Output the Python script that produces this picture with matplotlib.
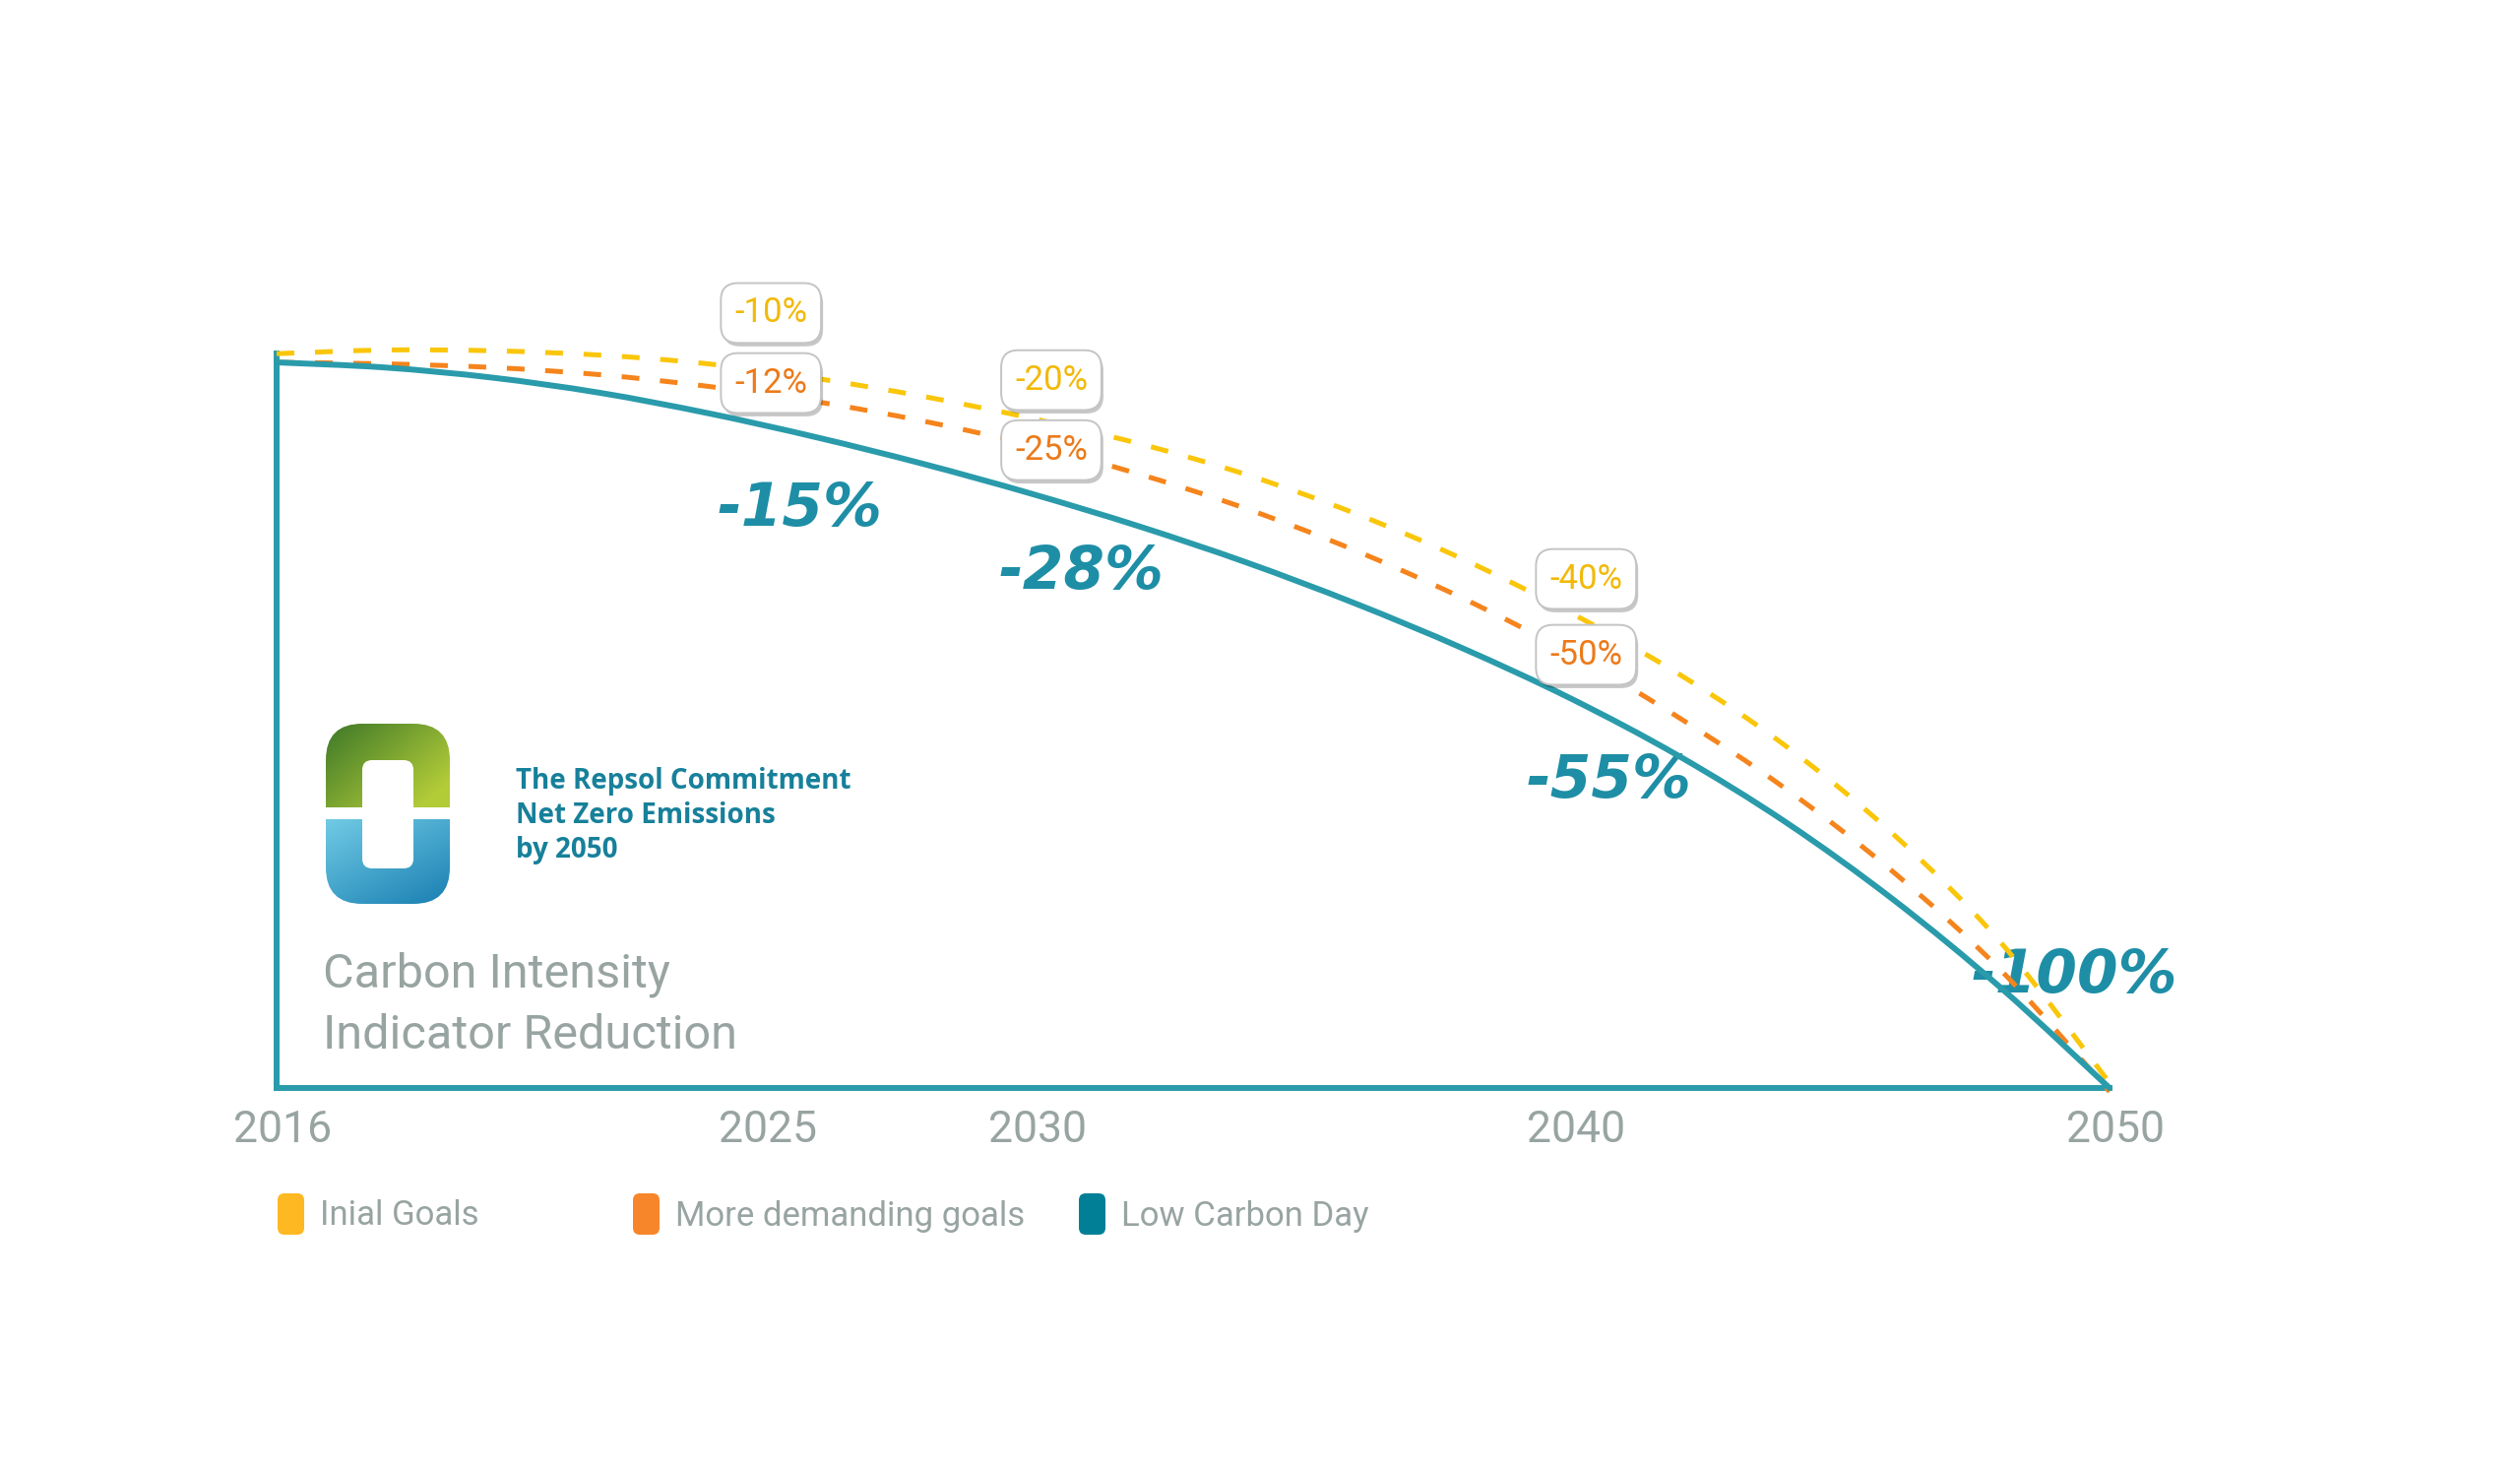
import numpy as np
import matplotlib
matplotlib.use("Agg")
import matplotlib.pyplot as plt
import matplotlib.transforms as mtransforms
from matplotlib.patches import FancyBboxPatch, Rectangle, PathPatch
from matplotlib.path import Path
from matplotlib.transforms import Affine2D
from matplotlib import patheffects as pe

# ------------------------------------------------------------------ data
years = [2016, 2018, 2020, 2022, 2024, 2026, 2028, 2030, 2032,
         2034, 2036, 2038, 2040, 2042, 2044, 2046, 2048, 2050]
low_carbon_day = [0, -0.7, -2.1, -4.2, -7.0, -10.3, -14.0, -18.1, -22.6,
                  -27.6, -33.2, -39.4, -46.3, -54.2, -63.4, -74.1, -86.3, -100]
initial_goals = [1.2, 1.7, 1.6, 1.0, -0.2, -2.2, -4.7, -7.7, -11.2,
                 -15.5, -20.8, -27.1, -34.5, -42.9, -52.9, -65.1, -80.1, -99.3]
more_demanding = [0, -0.2, -0.7, -1.7, -3.3, -5.4, -8.1, -11.4, -15.4,
                  -20.2, -25.9, -32.5, -40.1, -48.9, -58.8, -70.3, -83.9, -100.5]

milestone_years = [2025, 2030, 2040]
initial_labels = ["-10%", "-20%", "-40%"]
demanding_labels = ["-12%", "-25%", "-50%"]
lcd_years = [2025, 2030, 2040, 2050]
lcd_labels = ["-15%", "-28%", "-55%", "-100%"]

tick_years = [2016, 2025, 2030, 2040, 2050]
tick_labels = ["2016", "2025", "2030", "2040", "2050"]

legend_labels = ["Inial Goals", "More demanding goals", "Low Carbon Day"]
legend_colors = ["#FDB822", "#F7862B", "#007F97"]

logo_lines = ["The Repsol Commitment", "Net Zero Emissions", "by 2050"]
subtitle_lines = ["Carbon Intensity", "Indicator Reduction"]

# ------------------------------------------------------------------ style
TEAL = "#2A9BAB"
TEAL_TXT = "#1E8EA6"
YEL = "#FAC60A"
ORG = "#F5841C"
YEL_TXT = "#F2B90A"
ORG_TXT = "#EC7A1A"
GRAY = "#98A4A2"
LOGO_TXT = "#17809A"
LIGHT = ["Roboto", "DejaVu Sans"]

# layout (label placement, offsets in years / chart units)
box_dx = [0.17, 0.37, 0.29]
box_y_init = [6.8, -2.45, -29.85]
box_y_dem = [-2.85, -12.1, -40.3]
lcd_dx = [0.71, 0.92, 0.71, -0.65]
lcd_ty = [-20.3, -29.0, -57.7, -84.6]

W, H = 2560, 1494
fig = plt.figure(figsize=(W / 100, H / 100), dpi=100)
fig.patch.set_facecolor("white")
PX = Affine2D().scale(1, -1).translate(0, H)   # top-left pixel coordinates

ax = fig.add_axes([281 / W, 1 - 1105 / H, (2143 - 281) / W, (1105 - 359.2) / H])
ax.set_xlim(2016, 2050)
ax.set_ylim(-100, 1.2)
ax.patch.set_alpha(0)
for s in ("top", "right"):
    ax.spines[s].set_visible(False)
for s in ("left", "bottom"):
    ax.spines[s].set_color(TEAL)
    ax.spines[s].set_linewidth(4.3)
    ax.spines[s].set_capstyle("projecting")
ax.set_yticks([])
ax.set_xticks(tick_years, tick_labels)
ax.tick_params(axis="x", length=0, pad=16, labelsize=32, labelcolor=GRAY)
shift = mtransforms.ScaledTranslation(0.06, 0, fig.dpi_scale_trans)
for lbl in ax.get_xticklabels():
    lbl.set_fontfamily(LIGHT)
    lbl.set_fontweight("normal")
    lbl.set_transform(lbl.get_transform() + shift)


def smooth_path(xs, ys):
    """Smooth (Catmull-Rom style) Bezier path through the read points."""
    p = np.column_stack([xs, ys]).astype(float)
    ext = np.vstack([p[0], p, p[-1]])
    verts = [p[0]]
    codes = [Path.MOVETO]
    for i in range(len(p) - 1):
        p0, p1, p2, p3 = ext[i], ext[i + 1], ext[i + 2], ext[i + 3]
        verts += [p1 + (p2 - p0) / 6.0, p2 - (p3 - p1) / 6.0, p2]
        codes += [Path.CURVE4] * 3
    return Path(np.array(verts), codes)


# curves
for ys, col in ((initial_goals, YEL), (more_demanding, ORG)):
    ax.add_patch(PathPatch(smooth_path(years, ys), fill=False, ec=col, lw=3.6,
                           ls=(0, (3.6, 4.2)), capstyle="butt", clip_on=False, zorder=3))
ax.add_patch(PathPatch(smooth_path(years, low_carbon_day), fill=False, ec=TEAL, lw=4.3,
                       capstyle="round", joinstyle="round", clip_on=False, zorder=4))

# big low-carbon-day labels
for yr, lab, dx, ty in zip(lcd_years, lcd_labels, lcd_dx, lcd_ty):
    ax.text(yr + dx, ty, lab, ha="center", va="center", fontsize=43,
            fontweight="bold", fontstyle="italic", color=TEAL_TXT,
            family=["DejaVu Sans"], zorder=2)

# boxed goal labels
def boxed(x, y, s, col):
    t = ax.text(x, y, s, ha="center", va="center", fontsize=25, color=col,
                family=LIGHT, fontweight="normal", zorder=6,
                bbox=dict(boxstyle="round,pad=0.4,rounding_size=0.5",
                          fc="white", ec="#c4c4c4", lw=1.4))
    t.get_bbox_patch().set_path_effects(
        [pe.withSimplePatchShadow(offset=(1.5, -2.5), shadow_rgbFace="k", alpha=0.22)])

for yr, dx, lab, yy in zip(milestone_years, box_dx, initial_labels, box_y_init):
    boxed(yr + dx, yy, lab, YEL_TXT)
for yr, dx, lab, yy in zip(milestone_years, box_dx, demanding_labels, box_y_dem):
    boxed(yr + dx, yy, lab, ORG_TXT)

# ------------------------------------------------------------------ logo
lax = fig.add_axes([331 / W, 1 - 918 / H, 126 / W, 183 / H])
lax.set_xlim(0, 126)
lax.set_ylim(183, 0)
lax.axis("off")
yy_, xx_ = np.mgrid[0:1:183j, 0:1:126j]
img = np.zeros((183, 126, 3))
top = yy_ < 0.5
tg = np.clip(0.65 * xx_ + 0.55 * (yy_ / 0.5), 0, 1)
dark_g = np.array([0.24, 0.47, 0.16]); light_g = np.array([0.70, 0.80, 0.22])
tb = np.clip(0.42 * (1 - xx_) + 0.6 * (1 - (yy_ - 0.5) / 0.5), 0, 1)
dark_b = np.array([0.10, 0.50, 0.70]); light_b = np.array([0.45, 0.80, 0.90])
g = dark_g * (1 - tg[..., None]) + light_g * tg[..., None]
b = dark_b * (1 - tb[..., None]) + light_b * tb[..., None]
img[:] = np.where(top[..., None], g, b)
im = lax.imshow(img, extent=(0, 126, 183, 0), interpolation="bilinear")
outer = FancyBboxPatch((0, 0), 126, 183, boxstyle="round,pad=0,rounding_size=37",
                       fc="none", ec="none", transform=lax.transData)
lax.add_patch(outer)
im.set_clip_path(outer)
lax.add_patch(FancyBboxPatch((37, 37), 52, 110, boxstyle="round,pad=0,rounding_size=10",
                             fc="white", ec="none", zorder=3))
lax.add_patch(Rectangle((0, 85), 126, 12, fc="white", ec="none", zorder=3))

for i, line in enumerate(logo_lines):
    fig.text(524, 794 + 35 * i, line, transform=PX, fontsize=20, fontweight="bold",
             color=LOGO_TXT, va="center", ha="left", family=["Open Sans", "DejaVu Sans"])

for i, line in enumerate(subtitle_lines):
    fig.text(328, 990 + 62 * i, line, transform=PX, fontsize=35, fontweight="normal",
             color=GRAY, va="center", ha="left", family=LIGHT)

# ------------------------------------------------------------------ legend
legend_x = [282, 643, 1096]
for mx, lab, col in zip(legend_x, legend_labels, legend_colors):
    fig.add_artist(FancyBboxPatch((mx, 1212), 27, 42, boxstyle="round,pad=0,rounding_size=7",
                                  fc=col, ec="none", transform=PX))
    fig.text(mx + 43, 1235, lab, transform=PX, fontsize=25, fontweight="normal",
             color=GRAY, va="center", ha="left", family=LIGHT)

fig.savefig("out.png", dpi=100, facecolor="white")
